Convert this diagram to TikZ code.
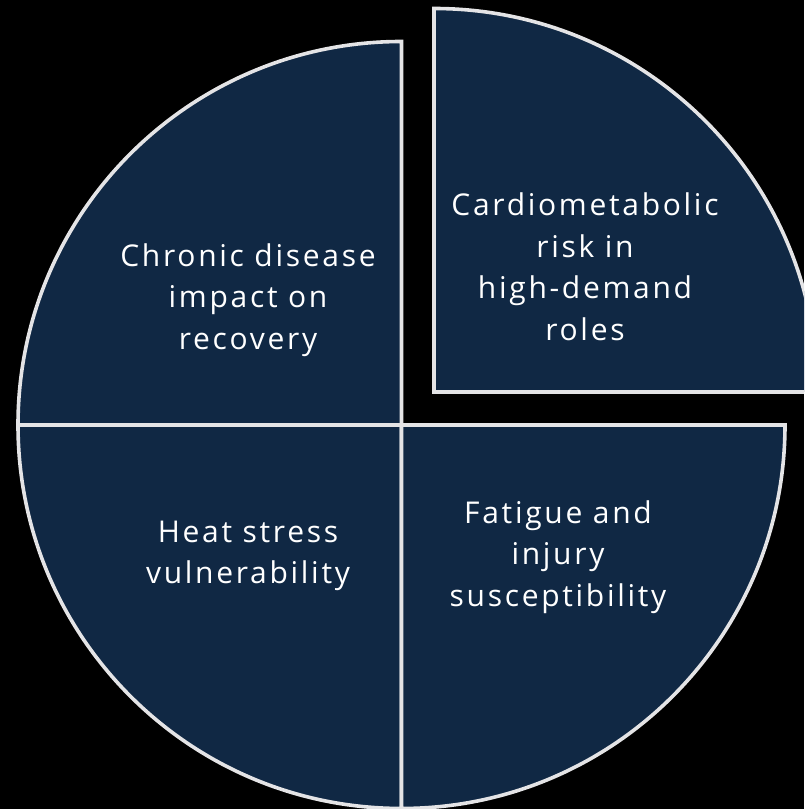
\documentclass[tikz,border=0pt]{standalone}
\usepackage{fontspec}
\setmainfont{Open Sans}[LetterSpace=9]
\definecolor{slicefill}{RGB}{16,40,68}
\definecolor{sliceline}{RGB}{228,228,230}
\begin{document}
\begin{tikzpicture}[x=1pt,y=1pt,
  slice/.style={fill=slicefill,draw=sliceline,line width=3.6pt,line join=miter},
  lbl/.style={text=white,align=center,font=\fontsize{30}{41.5}\selectfont,inner sep=0pt}]
\useasboundingbox (0,0) rectangle (804,809);
\clip (0,0) rectangle (804,809);
\fill[black] (0,0) rectangle (804,809);
\coordinate (c) at (401.5,384);
\coordinate (e) at (434,417);
\def\R{383.5}
% top-left
\draw[slice] (c) -- ++(90:\R) arc[start angle=90,end angle=180,radius=\R] -- cycle;
% bottom-left
\draw[slice] (c) -- ++(180:\R) arc[start angle=180,end angle=270,radius=\R] -- cycle;
% bottom-right
\draw[slice] (c) -- ++(270:\R) arc[start angle=270,end angle=360,radius=\R] -- cycle;
% exploded top-right
\draw[slice] (e) -- ++(0:\R) arc[start angle=0,end angle=90,radius=\R] -- cycle;
\node[lbl] (chronic) at (248,809-300) {Chronic disease\\impact on\\recovery};
\node[lbl] (cardio) at (585,809-267) {Cardiometabolic\\risk in\\high-demand\\roles};
\node[lbl] (heat) at (248,809-556) {Heat stress\\vulnerability};
\node[lbl] (fatigue) at (558,809-557) {Fatigue and\\injury\\susceptibility};
\end{tikzpicture}
\end{document}
